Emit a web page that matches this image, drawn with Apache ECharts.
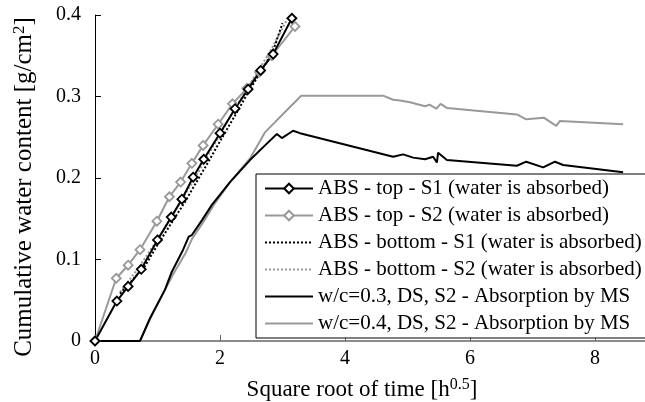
<!DOCTYPE html>
<html>
<head>
<meta charset="utf-8">
<script src="https://cdn.jsdelivr.net/npm/echarts@6/dist/echarts.min.js"></script>
<style>html,body{margin:0;padding:0;background:#fff}#c{width:645px;height:402px}</style>
</head>
<body>
<div id="c"></div>
<script>
const seriesNames = [
  'ABS - top - S1 (water is absorbed)',
  'ABS - top - S2 (water is absorbed)',
  'ABS - bottom - S1 (water is absorbed)',
  'ABS - bottom - S2 (water is absorbed)',
  'w/c=0.3, DS, S2 - Absorption by MS',
  'w/c=0.4, DS, S2 - Absorption by MS'
];
const xTicks = [0, 2, 4, 6, 8];
const yTicks = [0, 0.1, 0.2, 0.3, 0.4];

const absTopS1 = [[0,0],[0.35,0.049],[0.53,0.067],[0.74,0.088],[1.0,0.124],[1.22,0.152],[1.39,0.174],[1.57,0.201],[1.74,0.223],[2.0,0.255],[2.24,0.285],[2.45,0.309],[2.65,0.332],[2.85,0.352],[3.15,0.396]];
const absTopS2 = [[0,0],[0.34,0.077],[0.53,0.093],[0.72,0.112],[0.99,0.147],[1.19,0.177],[1.37,0.195],[1.55,0.218],[1.73,0.24],[1.97,0.266],[2.2,0.291],[2.43,0.31],[2.63,0.33],[2.83,0.35],[3.2,0.386]];
const absBotS1 = [[0.4,0.058],[0.6,0.075],[0.8,0.092],[1.0,0.118],[1.25,0.148],[1.45,0.172],[1.6,0.192],[1.8,0.218],[2.0,0.245],[2.25,0.278],[2.45,0.305],[2.65,0.33],[2.85,0.356],[3.0,0.39]];
const absBotS2 = [[0.4,0.06],[0.7,0.09],[1.0,0.125],[1.3,0.162],[1.6,0.2],[1.9,0.24],[2.2,0.28],[2.5,0.318],[2.8,0.355],[3.1,0.398]];
const ms03 = [[0,0],[0.72,0],[0.88,0.028],[1.12,0.063],[1.23,0.085],[1.41,0.112],[1.5,0.128],[1.55,0.13],[1.71,0.148],[1.87,0.167],[2.16,0.195],[2.48,0.222],[2.72,0.24],[2.91,0.254],[2.99,0.249],[3.17,0.258],[3.28,0.255],[4.77,0.226],[4.93,0.229],[5.09,0.225],[5.28,0.223],[5.41,0.226],[5.47,0.219],[5.49,0.231],[5.63,0.222],[6.75,0.215],[6.9,0.22],[7.17,0.213],[7.36,0.22],[7.49,0.216],[8.45,0.207]];
const ms04 = [[0,0],[0.72,0],[0.9,0.03],[1.1,0.06],[1.25,0.082],[1.45,0.108],[1.55,0.125],[1.75,0.148],[1.9,0.167],[2.16,0.195],[2.48,0.224],[2.72,0.256],[2.77,0.26],[3.04,0.281],[3.3,0.301],[4.61,0.301],[4.77,0.296],[4.88,0.295],[5.04,0.293],[5.28,0.288],[5.35,0.29],[5.46,0.285],[5.53,0.291],[5.63,0.286],[6.75,0.278],[6.9,0.272],[7.18,0.274],[7.38,0.264],[7.44,0.27],[8.45,0.266]];

const BLACK = '#000000', GREY = '#999999';
const font = 'Liberation Serif';

const chart = echarts.init(document.getElementById('c'), null, {renderer: 'canvas'});
function lineSeries(name, data, color, opts) {
  return Object.assign({
    name, type: 'line', data, smooth: false, showSymbol: false, symbol: 'none',
    lineStyle: {color, width: 2, type: 'solid'},
    itemStyle: {color},
    animation: false, z: 2
  }, opts || {});
}
const diamondOpts = (color) => ({
  showSymbol: true, symbol: 'diamond', symbolSize: 9,
  itemStyle: {color: '#ffffff', borderColor: color, borderWidth: 1.8}
});
const noIcon = {opacity: 0, borderWidth: 0};

chart.setOption({
  animation: false,
  grid: {left: 95, right: 0, top: 15, bottom: 61, containLabel: false, outerBoundsMode: 'none'},
  xAxis: {
    type: 'value', min: 0, max: 8.8, interval: 2,
    name: '{a|Square root of time [h}{s|0.5}{a|]}',
    nameLocation: 'middle', nameGap: 36,
    nameTextStyle: {
      padding: [0, 16, 0, 0],
      rich: {
        a: {fontFamily: font, fontSize: 23, color: '#000', verticalAlign: 'bottom', lineHeight: 24},
        s: {fontFamily: font, fontSize: 16, color: '#000', verticalAlign: 'top', lineHeight: 24, padding: [0,0,11,0]}
      }
    },
    axisLine: {show: true, onZero: false, lineStyle: {color: '#666', width: 1.5}},
    axisTick: {show: true, inside: true, length: 6, customValues: xTicks, lineStyle: {color: '#666'}},
    axisLabel: {customValues: xTicks, fontFamily: font, fontSize: 20, color: '#000', margin: 8},
    splitLine: {show: false}
  },
  yAxis: {
    type: 'value', min: 0, max: 0.4, interval: 0.1,
    name: '{a|Cumulative water content [g/cm}{s|2}{a|]}',
    nameLocation: 'middle', nameGap: 58, nameRotate: 90,
    nameTextStyle: {
      padding: [0, 18, 0, 0],
      rich: {
        a: {fontFamily: font, fontSize: 25, color: '#000', verticalAlign: 'bottom', lineHeight: 26},
        s: {fontFamily: font, fontSize: 17, color: '#000', verticalAlign: 'top', lineHeight: 26, padding: [0,0,12,0]}
      }
    },
    axisLine: {show: true, onZero: false, lineStyle: {color: '#000', width: 1}},
    axisTick: {show: true, inside: true, length: 6, customValues: yTicks, lineStyle: {color: '#000'}},
    axisLabel: {customValues: yTicks, fontFamily: font, fontSize: 20, color: '#000', margin: 14,
      formatter: v => (v === 0 ? '0' : v.toFixed(1))},
    splitLine: {show: false}
  },
  legend: {
    orient: 'vertical', left: 256, top: 174,
    backgroundColor: '#fff', borderColor: '#000', borderWidth: 1,
    padding: [4, 20, 4, 8],
    itemWidth: 48, itemHeight: 12, itemGap: 6,
    textStyle: {fontFamily: font, fontSize: 21, color: '#000', lineHeight: 21},
    data: [
      {name: seriesNames[0]},
      {name: seriesNames[1]},
      {name: seriesNames[2], itemStyle: noIcon},
      {name: seriesNames[3], itemStyle: noIcon},
      {name: seriesNames[4], itemStyle: noIcon},
      {name: seriesNames[5], itemStyle: noIcon}
    ]
  },
  series: [
    lineSeries(seriesNames[5], ms04, GREY),
    lineSeries(seriesNames[4], ms03, BLACK),
    lineSeries(seriesNames[3], absBotS2, GREY, {lineStyle: {color: GREY, width: 2, type: 'dotted'}}),
    lineSeries(seriesNames[2], absBotS1, BLACK, {lineStyle: {color: BLACK, width: 2, type: 'dotted'}}),
    lineSeries(seriesNames[1], absTopS2, GREY, diamondOpts(GREY)),
    lineSeries(seriesNames[0], absTopS1, BLACK, diamondOpts(BLACK))
  ]
});
</script>
</body>
</html>
